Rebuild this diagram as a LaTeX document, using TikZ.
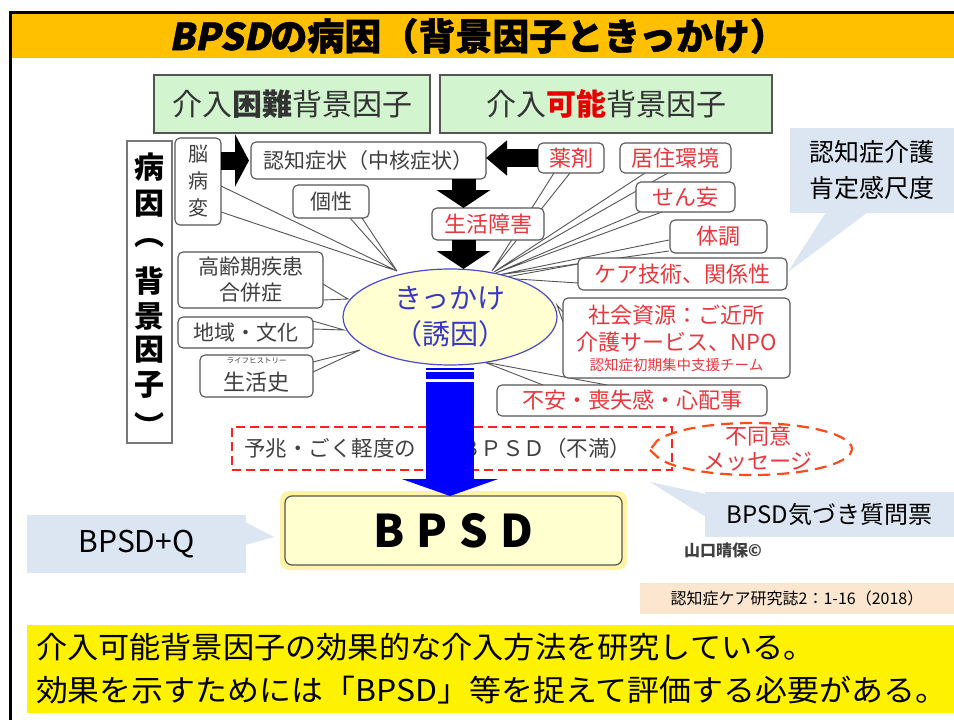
\documentclass[tikz,border=0pt]{standalone}
\usepackage{fontspec}
\setmainfont{Noto Sans CJK JP}
\usetikzlibrary{shapes.geometric,shapes.callouts,arrows.meta,calc}
\definecolor{titleor}{HTML}{FFC000}
\definecolor{mygreen}{HTML}{D2F5D0}
\definecolor{boxgray}{HTML}{555555}
\definecolor{txtgray}{HTML}{404040}
\definecolor{myred}{HTML}{E5383E}
\definecolor{brightred}{HTML}{E60000}
\definecolor{ellblue}{HTML}{4B4BC8}
\definecolor{ellfill}{HTML}{FFFFD2}
\definecolor{txtblue}{HTML}{3838C8}
\definecolor{lblue}{HTML}{DCE6F3}
\definecolor{citefill}{HTML}{FCE6CF}
\definecolor{glow}{HTML}{FFF3A8}
\definecolor{bpsdfill}{HTML}{FFFFD0}
\definecolor{dashred}{HTML}{FF2020}
\definecolor{dashor}{HTML}{FF4A1A}
\definecolor{arrowblue}{HTML}{0000FF}
\begin{document}
\begin{tikzpicture}[x=1pt,y=-1pt,
  every node/.style={inner sep=0pt,outer sep=0pt},
  rbox/.style={draw=boxgray,fill=white,rounded corners=5pt,line width=1.1pt,align=center},
  gtxt/.style={text=txtgray,font=\fontsize{21}{27}\selectfont},
  rtxt/.style={text=myred,font=\fontsize{22}{27}\selectfont},
  wline/.style={draw=boxgray,line width=0.9pt,line join=miter},
  greenbox/.style={draw=boxgray,fill=mygreen,line width=1.1pt,minimum height=58,font=\fontsize{30}{30}\selectfont,text=black!80},
  bluecall/.style={fill=lblue},
  fatblack/.style={draw=black,line width=18pt},
  colchar/.style={font=\bfseries\fontsize{30}{30}\selectfont},
]
\useasboundingbox (0,0) rectangle (954,720);
\fill[white] (0,0) rectangle (954,720);

% frame and title
\fill[titleor] (11,13) rectangle (954,58);
\draw[black,line width=3pt] (10,720) -- (10,12) -- (954,12);
\node[font=\bfseries\fontsize{37}{37}\selectfont\addfontfeature{FakeBold=1.2}] (title) at (478,36)
  {{\addfontfeature{FakeSlant=0.2}BPSD}の病因（背景因子ときっかけ）};

% green headers
\node[greenbox,minimum width=276] (hard) at (292,104) {介入\textbf{困難}背景因子};
\node[greenbox,minimum width=332] (easy) at (606,104) {介入\textcolor{brightred}{\textbf{可能}}背景因子};

% tip coordinates
\coordinate (tipL) at (397,271);
\coordinate (tipR) at (492,271);

% wedges (callout pointers)
\draw[wline] (221,186) -- (tipL) -- (221,212);
\draw[wline] (350,218) -- (tipL) -- (362,218);
\draw[wline] (323,284) -- (348,299) -- (323,300);
\draw[wline] (313,321) -- (344,330) -- (313,329);
\draw[wline] (313,362) -- (360,350) -- (313,372);
\draw[wline] (554,173) -- (tipR) -- (570,173);
\draw[wline] (645,173) -- (494,272) -- (668,173);
\draw[wline] (640,212) -- (496,273) -- (662,212);
\draw[wline] (669,240) -- (498,275) -- (669,251);
\draw[wline] (578,264) -- (501,278) -- (578,283);
\draw[wline] (563,312) -- (557,305) -- (563,322);
\draw[wline] (543,385) -- (484,362) -- (607,385);

% left column
\node[draw=boxgray!80,fill=white,line width=1.3pt,minimum width=45,minimum height=302] (cause) at (149.5,292) {};
\node[colchar] (c1) at (149.5,167) {病};
\node[colchar] (c2) at (149.5,204) {因};
\node[colchar] (c3) at (149.5,243) {︵};
\node[colchar] (c4) at (149.5,281) {背};
\node[colchar] (c5) at (149.5,316) {景};
\node[colchar] (c6) at (149.5,350) {因};
\node[colchar] (c7) at (149.5,385) {子};
\node[colchar] (c8) at (149.5,425) {︶};
\node[rbox,gtxt,font=\fontsize{20}{27}\selectfont,minimum width=46,minimum height=87] (brain) at (198,181.5) {脳\\病\\変};
\node[rbox,gtxt,minimum width=235,minimum height=37] (cog) at (368.5,160.5) {認知症状（中核症状）};
\node[rbox,gtxt,minimum width=76,minimum height=33] (kosei) at (331,201.5) {個性};
\node[rbox,gtxt,font=\fontsize{21}{26}\selectfont,minimum width=145,minimum height=56] (kourei) at (250.5,280) {高齢期疾患\\合併症};
\node[rbox,gtxt,minimum width=135,minimum height=31] (chiiki) at (245.5,332.5) {地域・文化};
\node[rbox,minimum width=113,minimum height=42] (shi) at (256.5,376) {};
\node[text=txtgray,font=\fontsize{7.5}{8}\selectfont] (ruby) at (256.5,361) {ライフヒストリー};
\node[gtxt,font=\fontsize{22}{24}\selectfont] (shitxt) at (256.5,382) {生活史};

% right boxes
\node[rbox,rtxt,minimum width=66,minimum height=30] (yaku) at (571,158) {薬剤};
\node[rbox,rtxt,minimum width=111,minimum height=30] (kyoju) at (675.5,158) {居住環境};
\node[rbox,rtxt,minimum width=112,minimum height=32] (life) at (488,224) {生活障害};
\node[rbox,rtxt,minimum width=99,minimum height=30] (senmo) at (685.5,197) {せん妄};
\node[rbox,rtxt,minimum width=97,minimum height=33] (taicho) at (718.5,236.5) {体調};
\node[rbox,rtxt,minimum width=209,minimum height=32] (care) at (682.5,274) {ケア技術、関係性};
\node[rbox,minimum width=227,minimum height=80] (shakai) at (676.5,338) {};
\node[rtxt] (sh1) at (676.5,315) {社会資源：ご近所};
\node[rtxt] (sh2) at (676.5,342) {介護サービス、NPO};
\node[text=myred,font=\fontsize{14.5}{16}\selectfont] (sh3) at (676.5,365) {認知症初期集中支援チーム};
\node[rbox,rtxt,minimum width=270,minimum height=31] (fuan) at (632,400.5) {不安・喪失感・心配事};

% trigger ellipse
\node[ellipse,draw=ellblue,fill=ellfill,line width=1.2pt,minimum width=214,minimum height=96] (kk) at (450,317) {};
\node[text=txtblue,font=\fontsize{28}{36}\selectfont,align=center] (kktxt) at (kk) {きっかけ\\（誘因）};

% black arrows
\coordinate (ax) at (463.5,0);
\draw[fatblack,-{Triangle[length=14pt,width=52pt]}] (brain.east |- cog.west) -- (cog.west) [shorten >=2pt];
\draw[fatblack,-{Triangle[length=21pt,width=34pt]}] (yaku.west) -- (yaku.west -| cog.east);
\draw[draw=black,line width=24pt,-{Triangle[length=18pt,width=53pt]}] (ax |- cog.south) -- (ax |- life.north);
\draw[draw=black,line width=24pt,-{Triangle[length=18pt,width=53pt]}] (ax |- life.south) -- (ax |- kk.north);

% premonitory dashed box
\node[draw=dashred,line width=2.2pt,dash pattern=on 9pt off 5pt,minimum width=440,minimum height=43] (pre) at (452,448.5) {};
\node[gtxt,anchor=west,font=\fontsize{21.5}{24}\selectfont] (pretxt) at (244,448) {予兆・ごく軽度の　　ＢＰＳＤ（不満）};
\coordinate (dtip) at (650,450);
\node[ellipse callout,draw=dashor,line width=2.2pt,dash pattern=on 12pt off 7pt,minimum width=200,minimum height=52,
      callout absolute pointer={(dtip)},callout pointer arc=40] (dis) at (752,449) {};
\node[rtxt,align=center,font=\fontsize{22}{25}\selectfont] (distxt) at (758,449) {不同意\\メッセージ};

% BPSD box
\node[fill=glow,rounded corners=9pt,minimum width=347,minimum height=79] (bglow) at (453.5,530.5) {};
\node[draw=boxgray,fill=bpsdfill,rounded corners=7pt,line width=1.2pt,minimum width=337,minimum height=69,
      font=\bfseries\fontsize{45}{45}\selectfont] (bpsd) at (453.5,530.5) {B\hspace{12pt}P\hspace{12pt}S\hspace{12pt}D};

% blue arrow
\draw[draw=arrowblue,line width=48pt,-{Triangle[length=17pt,width=96pt]}] ($(kk.south)+(0,3)$) -- (kk.south |- bpsd.north);
\draw[white,line width=2.5pt] ($(kk.south)+(-25,6)$) -- ($(kk.south)+(25,6)$);
\draw[white,line width=2.3pt] ($(kk.south)+(-25,15.5)$) -- ($(kk.south)+(25,15.5)$);

% light blue callouts
\fill[bluecall] (826,212) -- (788,272) -- (868,212) -- cycle;
\node[bluecall,minimum width=164,minimum height=85,align=center,font=\fontsize{25}{36}\selectfont] (kaigo) at (872,170) {認知症介護\\肯定感尺度};
\fill[bluecall] (706,494) -- (650,482) -- (706,517) -- cycle;
\node[bluecall,minimum width=249,minimum height=45,font=\fontsize{24}{26}\selectfont] (kizuki) at (829.5,514.5) {BPSD気づき質問票};
\fill[bluecall] (245,522) -- (274,537) -- (245,545) -- cycle;
\node[bluecall,minimum width=219,minimum height=58,font=\fontsize{30}{32}\selectfont] (plusq) at (136.5,544) {BPSD+Q};

% credits
\node[text=txtgray,font=\bfseries\fontsize{16}{18}\selectfont] (copy) at (723,550) {山口晴保©};
\node[fill=citefill,minimum width=314,minimum height=31,font=\fontsize{16}{18}\selectfont] (cite) at (797,598.5) {認知症ケア研究誌2：1-16（2018）};

% bottom message
\node[fill=yellow,minimum width=927,minimum height=88] (msg) at (490.5,668.5) {};
\node[anchor=west,font=\fontsize{30}{30}\selectfont] (msg1) at (36,647)
  {\scalebox{1.04}[1]{介入可能背景因子の効果的な介入方法を研究している。}};
\node[anchor=west,font=\fontsize{30}{30}\selectfont] (msg2) at (36,690)
  {\scalebox{1.065}[1]{効果を示すためには「BPSD」等を捉えて評価する必要がある。}};
\end{tikzpicture}
\end{document}
